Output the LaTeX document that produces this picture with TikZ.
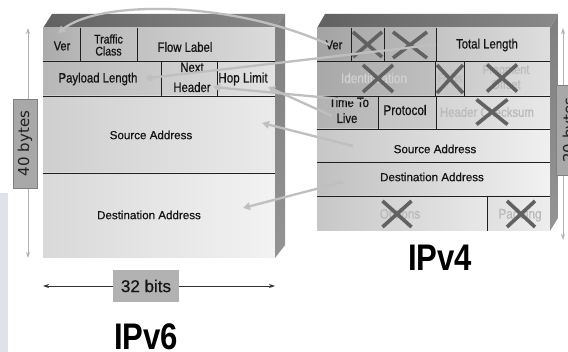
\documentclass[tikz,border=0pt]{standalone}
\usepackage{fontspec}
\setmainfont{Liberation Sans}
\newfontfamily\narrowf[FakeStretch=0.84,FakeBold=0.7]{Liberation Sans}
\newfontfamily\titlef[FakeStretch=0.84]{Liberation Sans}
\newfontfamily\regf[FakeBold=0.6]{Liberation Sans}
\newfontfamily\dejavuf{DejaVu Sans}
\usetikzlibrary{arrows.meta,shapes.misc,fit,calc}
\definecolor{lstrip}{HTML}{DFE2EA}
\begin{document}
\begin{tikzpicture}[x=1pt,y=-1pt,
  cellbox/.style={inner sep=0pt, outer sep=0pt, draw=none},
  div/.style={draw=black!88, line width=0.9pt},
  fld/.style={font=\narrowf\fontsize{13.5}{14}\selectfont, text=black!92, inner sep=0pt},
  fldr/.style={font=\regf\fontsize{11.6}{13}\selectfont, text=black!92, inner sep=0pt},
  faded/.style={fld, text=black!27},
  xmark/.style={cross out, draw=black!62, line width=3.6pt, inner sep=0pt, outer sep=0pt},
  conn/.style={draw=black!25, line width=2.3pt, -{Triangle[length=7pt,width=7.5pt]}},
  dimv/.style={draw=black!30, line width=0.9pt, {Stealth[length=6pt,width=4pt]}-{Stealth[length=6pt,width=4pt]}},
  dimh/.style={draw=black!80, line width=0.9pt, {Stealth[length=6pt,width=4pt]}-{Stealth[length=6pt,width=4pt]}},
  bytebox/.style={rotate=90, fill=black!34, draw=black!50, line width=0.6pt, inner sep=0pt,
     font=\dejavuf\fontsize{15}{16}\selectfont, text=black!88},
  title/.style={font=\titlef\bfseries\fontsize{37}{40}\selectfont, text=black, inner sep=0pt}
]
\useasboundingbox (0,0) rectangle (568,352);
\fill[white] (0,0) rectangle (568,352);
\fill[lstrip] (0,193) rectangle (8,352);

% ---------------- IPv6 ----------------
\shade[left color=black!62, right color=black!46] (43,28) -- (52,14) -- (285,14) -- (275,28) -- cycle;
\node[cellbox, fit={(43,28) (80,61)}, left color=black!33, right color=black!28] (ver6) {};
\node[cellbox, fit={(80,28) (137,61)}, left color=black!28, right color=black!24] (tc6) {};
\node[cellbox, fit={(137,28) (275,61)}, left color=black!24, right color=black!14] (fl6) {};
\node[cellbox, fit={(43,61) (161,96)}, left color=black!28, right color=black!21] (pl6) {};
\node[cellbox, fit={(161,61) (217,96)}, left color=black!20, right color=black!17] (nh6) {};
\node[cellbox, fit={(217,61) (275,96)}, left color=black!15, right color=black!11] (hl6) {};
\node[cellbox, fit={(43,96) (275,173)}, left color=black!19, right color=black!8] (sa6) {};
\node[cellbox, fit={(43,173) (275,258)}, left color=black!15, right color=black!5] (da6) {};
\shade[top color=black!50, bottom color=black!42] (275,28) -- (285,14) -- (285,245) -- (275,258) -- cycle;

\draw[div] (ver6.south west) -- (fl6.south east);
\draw[div] (pl6.south west) -- (hl6.south east);
\draw[div] (sa6.south west) -- (sa6.south east);
\draw[div] (ver6.north east) -- (ver6.south east);
\draw[div] (tc6.north east) -- (tc6.south east);
\draw[div] (pl6.north east) -- (pl6.south east);
\draw[div] (nh6.north east) -- (nh6.south east);

\node[fld, font=\narrowf\fontsize{13}{14}\selectfont] (tver6) at (62,46) {Ver};
\node[fld, align=center, font=\narrowf\fontsize{12.5}{12}\selectfont] (ttc6) at (108.5,45) {Traffic\\Class};
\node[fld] (tfl6) at (185,47) {Flow Label};
\node[fld] (tpl6) at (98,79) {Payload Length};
\node[fld, anchor=base] (tnh6a) at (192,72) {Next};
\node[fld, anchor=base] (tnh6b) at (192,92) {Header};
\node[fld, font=\narrowf\fontsize{13.9}{14}\selectfont] (thl6) at (243,79) {Hop Limit};
\node[fldr] (tsa6) at (151,135) {Source Address};
\node[fldr] (tda6) at (149,215) {Destination Address};

% ---------------- IPv4 ----------------
\shade[left color=black!62, right color=black!46] (317,28) -- (325,14) -- (558,14) -- (550,28) -- cycle;
\node[cellbox, fit={(317,28) (351,61)}, left color=black!36, right color=black!33] (ver4) {};
\node[cellbox, fit={(351,28) (384,61)}, left color=black!33, right color=black!30] (ihl4) {};
\node[cellbox, fit={(384,28) (436,61)}, left color=black!30, right color=black!26] (tos4) {};
\node[cellbox, fit={(436,28) (550,61)}, left color=black!23, right color=black!13] (tl4) {};
\node[cellbox, fit={(317,61) (435,96)}, left color=black!34, right color=black!25] (id4) {};
\node[cellbox, fit={(435,61) (464,96)}, left color=black!23, right color=black!21] (flg4) {};
\node[cellbox, fit={(464,61) (550,96)}, left color=black!20, right color=black!12] (fo4) {};
\node[cellbox, fit={(317,96) (378,129)}, left color=black!30, right color=black!26] (ttl4) {};
\node[cellbox, fit={(378,96) (436,129)}, left color=black!23, right color=black!20] (pr4) {};
\node[cellbox, fit={(436,96) (550,129)}, left color=black!17, right color=black!9] (hc4) {};
\node[cellbox, fit={(317,129) (550,162)}, left color=black!22, right color=black!6] (sa4) {};
\node[cellbox, fit={(317,162) (550,196)}, left color=black!25, right color=black!5] (da4) {};
\node[cellbox, fit={(317,196) (487,231)}, left color=black!22, right color=black!9] (op4) {};
\node[cellbox, fit={(487,196) (550,231)}, left color=black!12, right color=black!7] (pd4) {};
\shade[top color=black!50, bottom color=black!42] (550,28) -- (558,14) -- (558,218) -- (550,231) -- cycle;

\draw[div] (ver4.south west) -- (tl4.south east);
\draw[div] (id4.south west) -- (fo4.south east);
\draw[div] (ttl4.south west) -- (hc4.south east);
\draw[div] (sa4.south west) -- (sa4.south east);
\draw[div] (da4.south west) -- (da4.south east);
\draw[div] (ver4.north east) -- (ver4.south east);
\draw[div] (ihl4.north east) -- (ihl4.south east);
\draw[div] (tos4.north east) -- (tos4.south east);
\draw[div] (id4.north east) -- (id4.south east);
\draw[div] (flg4.north east) -- (flg4.south east);
\draw[div] (ttl4.north east) -- (ttl4.south east);
\draw[div] (pr4.north east) -- (pr4.south east);
\draw[div] (op4.north east) -- (op4.south east);

\node[fld, font=\narrowf\fontsize{13}{14}\selectfont] (tver4) at (334,45) {Ver};
\node[fld] (ttl4t) at (487,45) {Total Length};
\node[faded, font=\narrowf\fontsize{14}{14}\selectfont, text=black!18] (tid4) at (374,78) {Identification};
\node[faded, font=\narrowf\fontsize{12}{14}\selectfont] (tflg4) at (450,79) {Flags};
\node[faded, align=center, font=\narrowf\fontsize{13}{15}\selectfont] (tfo4) at (506,77) {Fragment\\Offset};
\node[fld, anchor=base] (tttl4a) at (349,107) {Time To};
\node[fld, anchor=base] (tttl4b) at (347,123) {Live};
\node[fld, font=\narrowf\fontsize{14}{14}\selectfont] (tpr4) at (405,110) {Protocol};
\node[faded] (thc4) at (487,112) {Header Checksum};
\node[fldr] (tsa4) at (435,149) {Source Address};
\node[fldr] (tda4) at (432,177) {Destination Address};
\node[faded, font=\narrowf\fontsize{14}{14}\selectfont] (top4) at (400,215) {Options};
\node[faded, font=\narrowf\fontsize{14}{14}\selectfont] (tpd4) at (520,215) {Padding};

% removed fields
\node[xmark, minimum width=29pt, minimum height=25pt] (x1) at (367.5,44.5) {};
\node[xmark, minimum width=34pt, minimum height=26pt] (x2) at (410,45) {};
\node[xmark, minimum width=30pt, minimum height=27pt] (x3) at (378,78.5) {};
\node[xmark, minimum width=26pt, minimum height=28pt] (x4) at (450,79) {};
\node[xmark, minimum width=30pt, minimum height=27pt] (x5) at (502,78) {};
\node[xmark, minimum width=31pt, minimum height=25pt] (x6) at (492,112) {};
\node[xmark, minimum width=29pt, minimum height=26pt] (x7) at (397,214) {};
\node[xmark, minimum width=28pt, minimum height=26pt] (x8) at (521,214) {};

% ---------------- connectors ----------------
\draw[conn] ($(ver4.center)+(-4,0.5)$) .. controls (230,0) and (100,0) .. ($(ver6.center)+(-3.5,-11.5)$);
\draw[conn] (tl4.west) -- ($(pl6.center)+(43,0)$);
\draw[conn] ($(ttl4.center)+(14,-11.5)$) -- ($(nh6.center)+(24,8.5)$);
\draw[conn] ($(ttl4.center)+(-15.5,3.5)$) -- ($(hl6.center)+(22,8.5)$);
\draw[conn] ($(sa4.center)+(-80.5,0.5)$) -- ($(sa6.center)+(103,-11.5)$);
\draw[conn] ($(da4.center)+(-90.5,3)$) -- ($(da6.center)+(84,-7.5)$);

% ---------------- dimensions ----------------
\coordinate (l40top) at (28,28);
\coordinate (l40bot) at (28,258);
\draw[dimv] (l40top) -- (l40bot);
\node[bytebox, minimum width=89pt, minimum height=24pt] (b40) at (25,143.5) {40 bytes};

\coordinate (r20top) at (563,28);
\coordinate (r20bot) at (563,240);
\draw[dimv] (r20top) -- (r20bot);
\node[bytebox, minimum width=90pt, minimum height=28pt] (b20) at (570,130) {20 bytes};

\draw[dimh] (da6.south west |- 0,286) coordinate (w32l) -- (da6.south east |- 0,286) coordinate (w32r);
\node[fill=black!30, inner sep=0pt, minimum width=66pt, minimum height=32pt,
      font=\regf\fontsize{17}{18}\selectfont, text=black!92] (b32) at (146,286) {32 bits};

\node[title] (h6) at (146,337) {IPv6};
\node[title] (h4) at (440,258) {IPv4};
\end{tikzpicture}
\end{document}
